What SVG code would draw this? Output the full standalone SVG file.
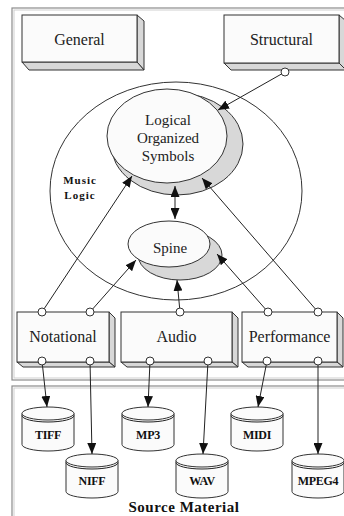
<svg xmlns="http://www.w3.org/2000/svg" width="344" height="516" viewBox="0 0 344 516" font-family="'Liberation Serif', 'Times New Roman', 'DejaVu Serif', serif">
  <defs>
    <style>
      .frame { fill: #ffffff; stroke: #8c8c8c; stroke-width: 1.2; }
      .frame-in { fill: none; stroke: #cfcfcf; stroke-width: 1; }
      .face { fill: #fbfbfb; stroke: #333; stroke-width: 1; }
      .side { fill: #d8d8d8; stroke: #333; stroke-width: 1; stroke-linejoin: round; }
      .ell { fill: #fbfbfb; stroke: #333; stroke-width: 1; }
      .shadow { fill: #d8d8d8; stroke: #333; stroke-width: 1; }
      .outer { fill: none; stroke: #333; stroke-width: 1; }
      text { font-family: 'Liberation Serif', 'Times New Roman', 'DejaVu Serif', serif; }
      .lbl { font-size: 16px; fill: #222; text-anchor: middle; }
      .olbl { font-size: 15px; fill: #222; text-anchor: middle; }
      .db { font-size: 12px; font-weight: bold; fill: #111; text-anchor: middle; letter-spacing: -0.3px; }
      .bold { font-weight: bold; fill: #111; text-anchor: middle; }
      .wire { fill: none; stroke: #222; stroke-width: 1; }
      .port { fill: #ffffff; stroke: #333; stroke-width: 1; }
      .cyl { fill: #fbfbfb; stroke: #333; stroke-width: 1; }
    </style>
    <marker id="arrow" viewBox="0 0 11 9" refX="11" refY="4.5" markerWidth="11" markerHeight="9" markerUnits="userSpaceOnUse" orient="auto-start-reverse">
      <path d="M0,0 L11,4.5 L0,9 z" fill="#111"/>
    </marker>
    <g id="cylinder">
      <path class="cyl" d="M0,6.5 L0,37.5 A26,6.5 0 0 0 52,37.5 L52,6.5"/>
      <ellipse class="cyl" cx="26" cy="6.5" rx="26" ry="6.5"/>
      <path class="wire" d="M0,8.5 A26,6.5 0 0 0 52,8.5"/>
    </g>
  </defs>

  <rect width="344" height="516" fill="#ffffff"/>

  <!-- panels -->
  <rect class="frame" x="12" y="8" width="345" height="372"/>
  <rect class="frame-in" x="14" y="10" width="345" height="368"/>
  <rect class="frame" x="12" y="386" width="345" height="140"/>
  <rect class="frame-in" x="14" y="388" width="345" height="140"/>

  <!-- music logic region -->
  <g id="music-logic">
    <ellipse class="outer" cx="176" cy="191" rx="126" ry="109"/>
    <text class="bold" x="80" y="184" font-size="11" letter-spacing="1">Music</text>
    <text class="bold" x="80" y="199" font-size="11" letter-spacing="1">Logic</text>
  </g>

  <g id="general">
    <polygon class="side" points="137,15 144,21 144,70 137,62"/>
    <polygon class="side" points="22,62 137,62 144,70 29,70"/>
    <rect class="face" x="22" y="15" width="115" height="47"/>
    <text class="lbl" x="79.5" y="45">General</text>
  </g>

  <g id="structural">
    <polygon class="side" points="339,15 346,21 346,70 339,63"/>
    <polygon class="side" points="224,63 339,63 346,70 231,70"/>
    <rect class="face" x="224" y="15" width="115" height="48"/>
    <text class="lbl" x="281.5" y="45">Structural</text>
  </g>

  <g id="logical-organized-symbols">
    <ellipse class="shadow" cx="177" cy="144" rx="66" ry="51"/>
    <ellipse class="ell" cx="167" cy="136" rx="60" ry="47"/>
    <text class="olbl" x="168" y="125">Logical</text>
    <text class="olbl" x="168" y="143">Organized</text>
    <text class="olbl" x="168" y="161">Symbols</text>
  </g>

  <g id="spine">
    <ellipse class="shadow" cx="180" cy="255" rx="42" ry="25"/>
    <ellipse class="ell" cx="169" cy="244" rx="41" ry="23"/>
    <text class="olbl" x="170" y="253">Spine</text>
  </g>

  <g id="notational">
    <polygon class="side" points="109,312 115,318 115,367 109,362"/>
    <polygon class="side" points="17,362 109,362 115,367 23,367"/>
    <rect class="face" x="17" y="312" width="92" height="50"/>
    <text class="lbl" x="63" y="342">Notational</text>
  </g>

  <g id="audio">
    <polygon class="side" points="232,312 238,318 238,367 232,362"/>
    <polygon class="side" points="121,362 232,362 238,367 127,367"/>
    <rect class="face" x="121" y="312" width="111" height="50"/>
    <text class="lbl" x="176.5" y="342">Audio</text>
  </g>

  <g id="performance">
    <polygon class="side" points="337,312 343,318 343,367 337,362"/>
    <polygon class="side" points="242,362 337,362 343,367 248,367"/>
    <rect class="face" x="242" y="312" width="95" height="50"/>
    <text class="lbl" x="289.5" y="342">Performance</text>
  </g>

  <!-- source files -->
  <g id="tiff">
    <use href="#cylinder" x="22" y="407"/>
    <text class="db" x="48" y="439">TIFF</text>
  </g>
  <g id="niff">
    <use href="#cylinder" x="66" y="454"/>
    <text class="db" x="92" y="485">NIFF</text>
  </g>
  <g id="mp3">
    <use href="#cylinder" x="122" y="407"/>
    <text class="db" x="148" y="439">MP3</text>
  </g>
  <g id="wav">
    <use href="#cylinder" x="176" y="454"/>
    <text class="db" x="202" y="485">WAV</text>
  </g>
  <g id="midi">
    <use href="#cylinder" x="231" y="407"/>
    <text class="db" x="257" y="439">MIDI</text>
  </g>
  <g id="mpeg4">
    <use href="#cylinder" x="292" y="454"/>
    <text class="db" x="318" y="485">MPEG4</text>
  </g>

  <text class="bold" x="184" y="512" font-size="15" letter-spacing="0.5">Source Material</text>

  <!-- connectors -->
  <g id="connectors">
    <line class="wire" x1="285" y1="72" x2="218" y2="110" marker-end="url(#arrow)"/>
    <line class="wire" x1="175" y1="186" x2="175" y2="219" marker-start="url(#arrow)" marker-end="url(#arrow)"/>
    <line class="wire" x1="42" y1="312" x2="132" y2="176" marker-end="url(#arrow)"/>
    <line class="wire" x1="90" y1="312" x2="136" y2="260" marker-end="url(#arrow)"/>
    <line class="wire" x1="180" y1="312" x2="177" y2="280" marker-end="url(#arrow)"/>
    <line class="wire" x1="268" y1="312" x2="217" y2="254" marker-end="url(#arrow)"/>
    <line class="wire" x1="318" y1="312" x2="202" y2="178" marker-end="url(#arrow)"/>
    <line class="wire" x1="42" y1="361" x2="47" y2="407" marker-end="url(#arrow)"/>
    <line class="wire" x1="90" y1="361" x2="92" y2="454" marker-end="url(#arrow)"/>
    <line class="wire" x1="150" y1="361" x2="148" y2="407" marker-end="url(#arrow)"/>
    <line class="wire" x1="208" y1="361" x2="203" y2="454" marker-end="url(#arrow)"/>
    <line class="wire" x1="267" y1="361" x2="258" y2="407" marker-end="url(#arrow)"/>
    <line class="wire" x1="318" y1="361" x2="318" y2="454" marker-end="url(#arrow)"/>
    <!-- ports -->
    <circle class="port" cx="285" cy="72" r="4"/>
    <circle class="port" cx="42" cy="312" r="4"/>
    <circle class="port" cx="90" cy="312" r="4"/>
    <circle class="port" cx="180" cy="312" r="4"/>
    <circle class="port" cx="268" cy="312" r="4"/>
    <circle class="port" cx="318" cy="312" r="4"/>
    <circle class="port" cx="42" cy="361" r="4"/>
    <circle class="port" cx="90" cy="361" r="4"/>
    <circle class="port" cx="150" cy="361" r="4"/>
    <circle class="port" cx="208" cy="361" r="4"/>
    <circle class="port" cx="267" cy="361" r="4"/>
    <circle class="port" cx="318" cy="361" r="4"/>
  </g>
</svg>
